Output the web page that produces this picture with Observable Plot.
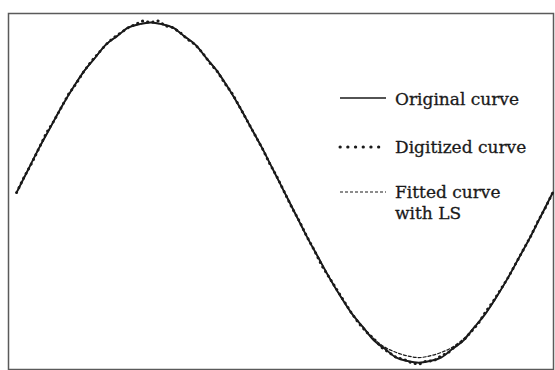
<!DOCTYPE html>
<html>
<head>
<meta charset="utf-8">
<script src="https://cdn.jsdelivr.net/npm/d3@7"></script>
<script src="https://cdn.jsdelivr.net/npm/@observablehq/plot@0.6"></script>
<style>
  html, body { margin: 0; padding: 0; background: #fff; }
  #chart { position: relative; width: 555px; height: 370px; }
  #legend { position: absolute; left: 0; top: 0; pointer-events: none; }
  #legend text { font-family: "DejaVu Serif", "Liberation Serif", serif; font-size: 17px; fill: #1a1a1a; stroke: #1a1a1a; stroke-width: 0.3; }
</style>
</head>
<body>
<div id="chart"></div>
<script>
// Phase angle (degrees) for the original and fitted curves
const coarseDeg = [0, 7.5, 15, 22.5, 30, 37.5, 45, 52.5, 60, 67.5, 75, 82.5, 90, 97.5, 105, 112.5,
  120, 127.5, 135, 142.5, 150, 157.5, 165, 172.5, 180, 187.5, 195, 202.5, 210, 217.5, 225, 232.5,
  240, 247.5, 255, 262.5, 270, 277.5, 285, 292.5, 300, 307.5, 315, 322.5, 330, 337.5, 345, 352.5, 360];

// Original curve
const originalVals = [0.00, 0.13, 0.26, 0.38, 0.50, 0.61, 0.71, 0.79, 0.87, 0.92, 0.97, 0.99, 1.00,
  0.99, 0.97, 0.92, 0.87, 0.79, 0.71, 0.61, 0.50, 0.38, 0.26, 0.13, 0.00,
  -0.13, -0.26, -0.38, -0.50, -0.61, -0.71, -0.79, -0.87, -0.92, -0.97, -0.99, -1.00,
  -0.99, -0.97, -0.92, -0.87, -0.79, -0.71, -0.61, -0.50, -0.38, -0.26, -0.13, 0.00];

// Least-squares fitted curve (slightly shallow at the trough)
const fittedVals = [0.00, 0.13, 0.26, 0.38, 0.50, 0.61, 0.71, 0.79, 0.87, 0.92, 0.97, 0.99, 1.00,
  0.99, 0.97, 0.92, 0.87, 0.79, 0.71, 0.61, 0.50, 0.38, 0.26, 0.13, 0.00,
  -0.13, -0.26, -0.38, -0.50, -0.61, -0.71, -0.79, -0.86, -0.91, -0.94, -0.96, -0.97,
  -0.96, -0.94, -0.91, -0.86, -0.79, -0.71, -0.61, -0.50, -0.38, -0.26, -0.13, 0.00];

// Digitized samples
const digitizedDeg = [0, 5, 10, 15, 20, 25, 30, 35, 40, 45, 50, 55, 60, 65, 70, 75, 80, 85, 90,
  95, 100, 105, 110, 115, 120, 125, 130, 135, 140, 145, 150, 155, 160, 165, 170, 175, 180,
  185, 190, 195, 200, 205, 210, 215, 220, 225, 230, 235, 240, 245, 250, 255, 260, 265, 270,
  275, 280, 285, 290, 295, 300, 305, 310, 315, 320, 325, 330, 335, 340, 345, 350, 355, 360];
const digitizedVals = [0.00, 0.09, 0.17, 0.26, 0.35, 0.42, 0.50, 0.58, 0.64, 0.71, 0.77, 0.82, 0.87,
  0.91, 0.94, 0.97, 0.99, 1.01, 1.00, 1.01, 0.98, 0.97, 0.94, 0.90, 0.87, 0.82, 0.76, 0.71,
  0.64, 0.58, 0.50, 0.42, 0.34, 0.26, 0.17, 0.09, 0.00,
  -0.09, -0.17, -0.26, -0.34, -0.43, -0.50, -0.57, -0.64, -0.71, -0.77, -0.82, -0.86,
  -0.91, -0.94, -0.97, -0.98, -1.00, -1.01, -0.99, -0.99, -0.96, -0.94, -0.90, -0.87,
  -0.82, -0.77, -0.70, -0.64, -0.57, -0.50, -0.42, -0.34, -0.26, -0.17, -0.09, 0.00];

const legendLabels = ["Original curve", "Digitized curve", "Fitted curve", "with LS"];

const original = coarseDeg.map((d, i) => ({deg: d, v: originalVals[i]}));
const fitted = coarseDeg.map((d, i) => ({deg: d, v: fittedVals[i]}));
const digitized = digitizedDeg.map((d, i) => ({deg: d, v: digitizedVals[i]}));

const ink = "#1a1a1a";

const plot = Plot.plot({
  width: 555,
  height: 370,
  marginTop: 13,
  marginLeft: 8,
  marginRight: 2,
  marginBottom: 1,
  x: {domain: [-5.4, 360.5], axis: null},
  y: {domain: [-1.04, 1.053], axis: null},
  marks: [
    Plot.frame({stroke: "#5a5a5a", strokeWidth: 1.5}),
    Plot.line(original, {x: "deg", y: "v", curve: "catmull-rom", stroke: ink, strokeWidth: 1.9}),
    Plot.line(fitted, {x: "deg", y: "v", curve: "catmull-rom", stroke: ink, strokeWidth: 1.2, strokeDasharray: "3,2"}),
    Plot.line(digitized, {x: "deg", y: "v", stroke: ink, strokeWidth: 2.8, strokeDasharray: "0.3,5", strokeLinecap: "round"})
  ]
});

const chart = document.getElementById("chart");
chart.appendChild(plot);

// Key, laid over the upper right of the plot area
const svg = d3.select(chart).append("svg")
  .attr("id", "legend")
  .attr("width", 555)
  .attr("height", 370);

const keys = [
  {y: 98, dash: null, width: 1.5, cap: "butt"},
  {y: 147, dash: "0.3,7.4", width: 3, cap: "round"},
  {y: 192, dash: "3,2", width: 1.2, cap: "butt"}
];
keys.forEach(k => {
  const ln = svg.append("line")
    .attr("x1", 340).attr("x2", 386)
    .attr("y1", k.y).attr("y2", k.y)
    .attr("stroke", ink)
    .attr("stroke-width", k.width)
    .attr("stroke-linecap", k.cap);
  if (k.dash) ln.attr("stroke-dasharray", k.dash);
});

const textY = [99, 147, 192, 213];
legendLabels.forEach((t, i) => {
  svg.append("text")
    .attr("x", 395)
    .attr("y", textY[i])
    .attr("dy", "0.35em")
    .text(t);
});
</script>
</body>
</html>
